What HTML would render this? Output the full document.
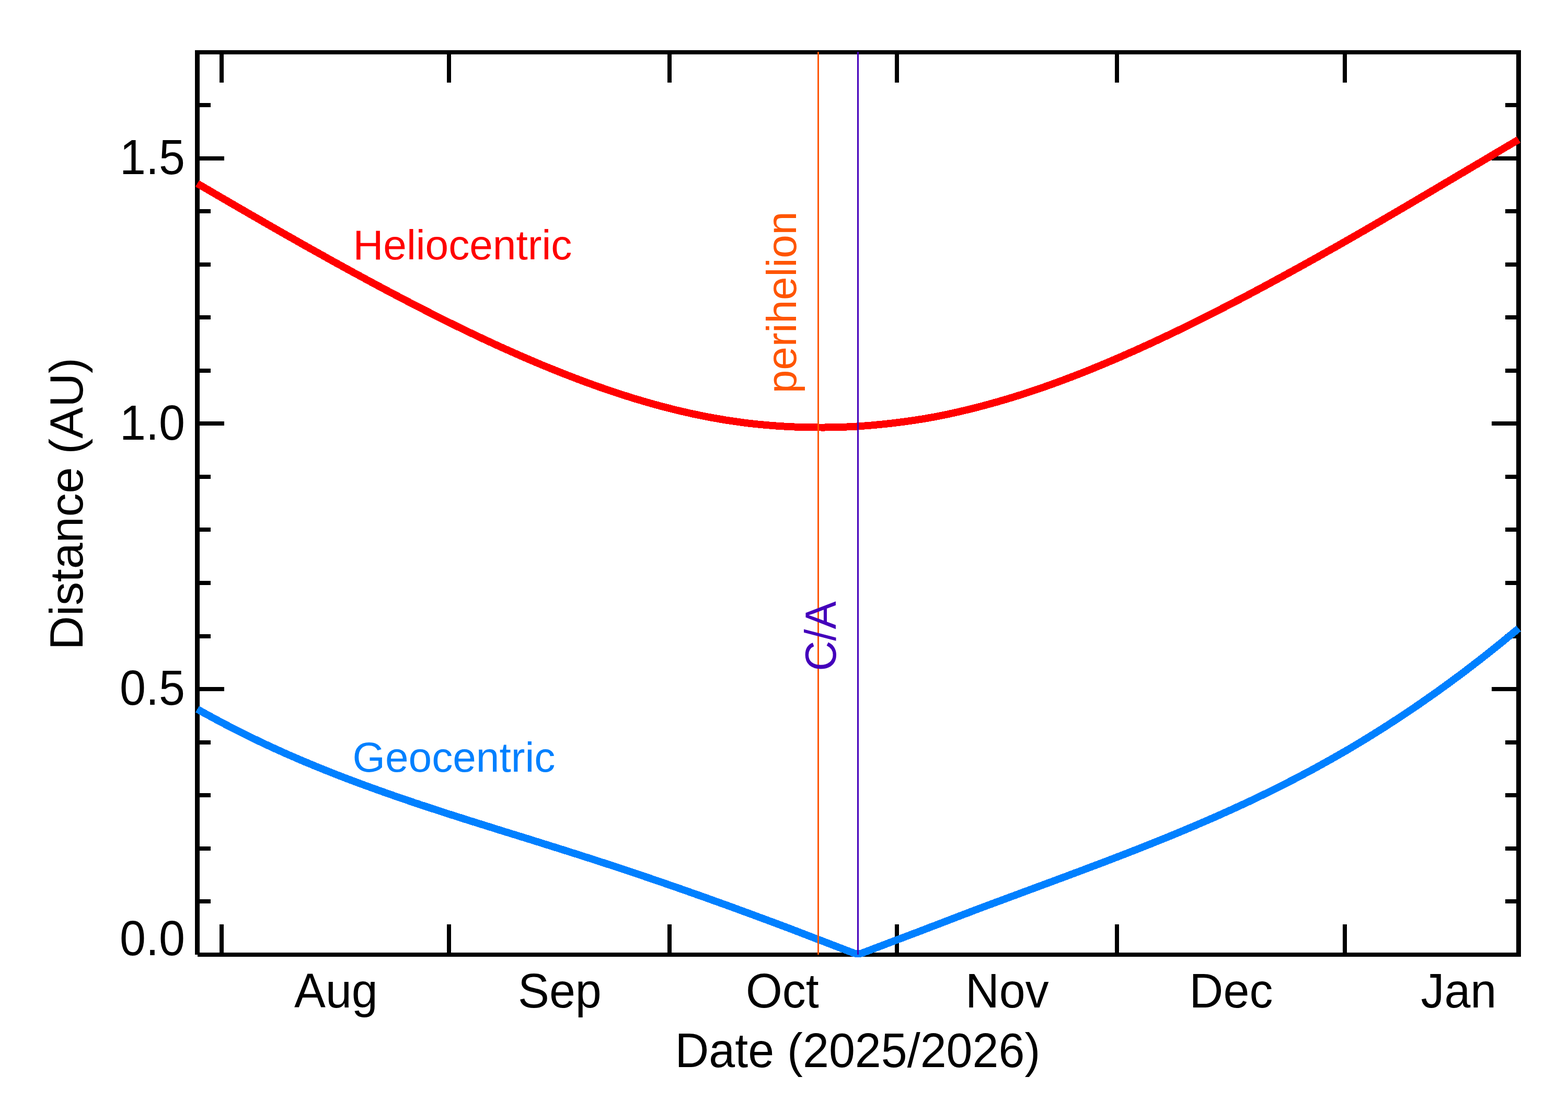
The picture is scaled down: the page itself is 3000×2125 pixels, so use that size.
<!DOCTYPE html>
<html lang="en"><head><meta charset="utf-8"><title>Heliocentric and Geocentric Distance</title>
<style>html,body{margin:0;padding:0;background:#fff}body{width:3000px;height:2125px}svg{display:block}text{font-family:"Liberation Sans",Arial,Helvetica,sans-serif}</style></head><body>
<svg width="3000" height="2125" viewBox="0 0 3000 2125">
<rect x="0" y="0" width="3000" height="2125" fill="#ffffff"/>
<g fill="none" stroke="#000" stroke-width="8.33" stroke-linecap="butt" stroke-linejoin="miter" shape-rendering="crispEdges">
<path d="M377.5,1826.0 H2905.5 V100.0 H377.5 V1826.0"/>
</g>
<g fill="#000" shape-rendering="crispEdges">
<rect x="420" y="96" width="8" height="62"/><rect x="420" y="1768" width="8" height="62"/>
<rect x="855" y="96" width="8" height="62"/><rect x="855" y="1768" width="8" height="62"/>
<rect x="1277" y="96" width="8" height="62"/><rect x="1277" y="1768" width="8" height="62"/>
<rect x="1712" y="96" width="8" height="62"/><rect x="1712" y="1768" width="8" height="62"/>
<rect x="2133" y="96" width="8" height="62"/><rect x="2133" y="1768" width="8" height="62"/>
<rect x="2569" y="96" width="8" height="62"/><rect x="2569" y="1768" width="8" height="62"/>
<rect x="373" y="1720" width="30" height="8"/><rect x="2880" y="1720" width="30" height="8"/>
<rect x="373" y="1619" width="30" height="8"/><rect x="2880" y="1619" width="30" height="8"/>
<rect x="373" y="1517" width="30" height="8"/><rect x="2880" y="1517" width="30" height="8"/>
<rect x="373" y="1416" width="30" height="8"/><rect x="2880" y="1416" width="30" height="8"/>
<rect x="373" y="1314" width="56" height="8"/><rect x="2854" y="1314" width="56" height="8"/>
<rect x="373" y="1213" width="30" height="8"/><rect x="2880" y="1213" width="30" height="8"/>
<rect x="373" y="1111" width="30" height="8"/><rect x="2880" y="1111" width="30" height="8"/>
<rect x="373" y="1009" width="30" height="8"/><rect x="2880" y="1009" width="30" height="8"/>
<rect x="373" y="908" width="30" height="8"/><rect x="2880" y="908" width="30" height="8"/>
<rect x="373" y="806" width="56" height="8"/><rect x="2854" y="806" width="56" height="8"/>
<rect x="373" y="705" width="30" height="8"/><rect x="2880" y="705" width="30" height="8"/>
<rect x="373" y="603" width="30" height="8"/><rect x="2880" y="603" width="30" height="8"/>
<rect x="373" y="502" width="30" height="8"/><rect x="2880" y="502" width="30" height="8"/>
<rect x="373" y="400" width="30" height="8"/><rect x="2880" y="400" width="30" height="8"/>
<rect x="373" y="299" width="56" height="8"/><rect x="2854" y="299" width="56" height="8"/>
<rect x="373" y="197" width="30" height="8"/><rect x="2880" y="197" width="30" height="8"/>
</g>
<path d="M377.5,351.0 L384.5,355.1 L391.5,359.2 L398.6,363.3 L405.6,367.4 L412.6,371.5 L419.6,375.6 L426.7,379.7 L433.7,383.8 L440.7,387.9 L447.7,391.9 L454.7,396.0 L461.8,400.1 L468.8,404.1 L475.8,408.2 L482.8,412.2 L489.9,416.3 L496.9,420.3 L503.9,424.4 L510.9,428.4 L517.9,432.4 L525.0,436.5 L532.0,440.5 L539.0,444.5 L546.0,448.5 L553.1,452.5 L560.1,456.4 L567.1,460.4 L574.1,464.4 L581.1,468.4 L588.2,472.3 L595.2,476.3 L602.2,480.2 L609.2,484.1 L616.3,488.0 L623.3,492.0 L630.3,495.9 L637.3,499.8 L644.3,503.6 L651.4,507.5 L658.4,511.4 L665.4,515.2 L672.4,519.1 L679.5,522.9 L686.5,526.7 L693.5,530.5 L700.5,534.3 L707.5,538.1 L714.6,541.9 L721.6,545.7 L728.6,549.4 L735.6,553.2 L742.7,556.9 L749.7,560.6 L756.7,564.3 L763.7,568.0 L770.7,571.7 L777.8,575.3 L784.8,579.0 L791.8,582.6 L798.8,586.2 L805.9,589.8 L812.9,593.4 L819.9,597.0 L826.9,600.6 L833.9,604.1 L841.0,607.6 L848.0,611.1 L855.0,614.6 L862.0,618.1 L869.1,621.5 L876.1,625.0 L883.1,628.4 L890.1,631.8 L897.1,635.2 L904.2,638.5 L911.2,641.9 L918.2,645.2 L925.2,648.5 L932.3,651.8 L939.3,655.0 L946.3,658.3 L953.3,661.5 L960.3,664.7 L967.4,667.8 L974.4,671.0 L981.4,674.1 L988.4,677.2 L995.5,680.3 L1002.5,683.4 L1009.5,686.4 L1016.5,689.4 L1023.5,692.4 L1030.6,695.3 L1037.6,698.3 L1044.6,701.2 L1051.6,704.0 L1058.7,706.9 L1065.7,709.7 L1072.7,712.5 L1079.7,715.3 L1086.7,718.0 L1093.8,720.7 L1100.8,723.4 L1107.8,726.1 L1114.8,728.7 L1121.9,731.3 L1128.9,733.8 L1135.9,736.4 L1142.9,738.9 L1149.9,741.3 L1157.0,743.8 L1164.0,746.2 L1171.0,748.6 L1178.0,750.9 L1185.1,753.2 L1192.1,755.5 L1199.1,757.7 L1206.1,759.9 L1213.1,762.1 L1220.2,764.2 L1227.2,766.3 L1234.2,768.4 L1241.2,770.4 L1248.3,772.4 L1255.3,774.3 L1262.3,776.2 L1269.3,778.1 L1276.3,779.9 L1283.4,781.7 L1290.4,783.5 L1297.4,785.2 L1304.4,786.8 L1311.5,788.4 L1318.5,790.0 L1325.5,791.6 L1332.5,793.0 L1339.5,794.5 L1346.6,795.9 L1353.6,797.3 L1360.6,798.6 L1367.6,799.9 L1374.7,801.1 L1381.7,802.3 L1388.7,803.5 L1395.7,804.6 L1402.7,805.6 L1409.8,806.6 L1416.8,807.6 L1423.8,808.5 L1430.8,809.4 L1437.9,810.2 L1444.9,811.0 L1451.9,811.7 L1458.9,812.4 L1465.9,813.0 L1473.0,813.6 L1480.0,814.2 L1487.0,814.7 L1494.0,815.1 L1501.1,815.6 L1508.1,816.0 L1515.1,816.3 L1522.1,816.6 L1529.1,816.8 L1536.2,817.0 L1543.2,817.2 L1550.2,817.3 L1557.2,817.4 L1564.3,817.5 L1571.3,817.5 L1578.3,817.5 L1585.3,817.4 L1592.3,817.3 L1599.4,817.2 L1606.4,817.0 L1613.4,816.8 L1620.4,816.5 L1627.5,816.2 L1634.5,815.8 L1641.5,815.4 L1648.5,814.9 L1655.5,814.4 L1662.6,813.9 L1669.6,813.3 L1676.6,812.6 L1683.6,812.0 L1690.7,811.2 L1697.7,810.5 L1704.7,809.7 L1711.7,808.9 L1718.7,808.0 L1725.8,807.1 L1732.8,806.2 L1739.8,805.2 L1746.8,804.2 L1753.9,803.1 L1760.9,802.0 L1767.9,800.9 L1774.9,799.7 L1781.9,798.4 L1789.0,797.2 L1796.0,795.8 L1803.0,794.4 L1810.0,793.0 L1817.1,791.5 L1824.1,790.0 L1831.1,788.4 L1838.1,786.8 L1845.1,785.1 L1852.2,783.5 L1859.2,781.7 L1866.2,780.0 L1873.2,778.1 L1880.3,776.3 L1887.3,774.4 L1894.3,772.5 L1901.3,770.5 L1908.3,768.6 L1915.4,766.5 L1922.4,764.5 L1929.4,762.4 L1936.4,760.3 L1943.5,758.1 L1950.5,755.9 L1957.5,753.7 L1964.5,751.4 L1971.5,749.1 L1978.6,746.7 L1985.6,744.4 L1992.6,742.0 L1999.6,739.5 L2006.7,737.0 L2013.7,734.5 L2020.7,732.0 L2027.7,729.4 L2034.7,726.8 L2041.8,724.1 L2048.8,721.5 L2055.8,718.8 L2062.8,716.1 L2069.9,713.3 L2076.9,710.5 L2083.9,707.7 L2090.9,704.9 L2097.9,702.0 L2105.0,699.1 L2112.0,696.2 L2119.0,693.2 L2126.0,690.3 L2133.1,687.3 L2140.1,684.3 L2147.1,681.2 L2154.1,678.1 L2161.1,675.0 L2168.2,671.9 L2175.2,668.8 L2182.2,665.6 L2189.2,662.4 L2196.3,659.2 L2203.3,656.0 L2210.3,652.7 L2217.3,649.4 L2224.3,646.1 L2231.4,642.8 L2238.4,639.5 L2245.4,636.1 L2252.4,632.8 L2259.5,629.4 L2266.5,625.9 L2273.5,622.5 L2280.5,619.0 L2287.5,615.6 L2294.6,612.1 L2301.6,608.6 L2308.6,605.0 L2315.6,601.5 L2322.7,597.9 L2329.7,594.4 L2336.7,590.8 L2343.7,587.1 L2350.7,583.5 L2357.8,579.9 L2364.8,576.2 L2371.8,572.6 L2378.8,568.9 L2385.9,565.2 L2392.9,561.5 L2399.9,557.7 L2406.9,554.0 L2413.9,550.3 L2421.0,546.5 L2428.0,542.7 L2435.0,538.9 L2442.0,535.1 L2449.1,531.3 L2456.1,527.5 L2463.1,523.6 L2470.1,519.8 L2477.1,515.9 L2484.2,512.1 L2491.2,508.2 L2498.2,504.3 L2505.2,500.4 L2512.3,496.5 L2519.3,492.6 L2526.3,488.6 L2533.3,484.7 L2540.3,480.7 L2547.4,476.8 L2554.4,472.8 L2561.4,468.8 L2568.4,464.8 L2575.5,460.8 L2582.5,456.8 L2589.5,452.8 L2596.5,448.8 L2603.5,444.7 L2610.6,440.7 L2617.6,436.6 L2624.6,432.6 L2631.6,428.5 L2638.7,424.4 L2645.7,420.3 L2652.7,416.2 L2659.7,412.1 L2666.7,408.0 L2673.8,403.9 L2680.8,399.8 L2687.8,395.7 L2694.8,391.6 L2701.9,387.4 L2708.9,383.3 L2715.9,379.1 L2722.9,375.0 L2729.9,370.9 L2737.0,366.7 L2744.0,362.6 L2751.0,358.4 L2758.0,354.3 L2765.1,350.1 L2772.1,346.0 L2779.1,341.8 L2786.1,337.7 L2793.1,333.5 L2800.2,329.4 L2807.2,325.2 L2814.2,321.1 L2821.2,316.9 L2828.3,312.8 L2835.3,308.6 L2842.3,304.4 L2849.3,300.3 L2856.3,296.1 L2863.4,291.9 L2870.4,287.8 L2877.4,283.6 L2884.4,279.4 L2891.5,275.3 L2898.5,271.1 L2905.5,267.0" fill="none" stroke="#ff0000" stroke-width="14.0" stroke-linejoin="miter" stroke-linecap="butt" shape-rendering="crispEdges"/>
<path d="M377.5,1356.4 L384.5,1360.4 L391.5,1364.3 L398.6,1368.1 L405.6,1371.9 L412.6,1375.7 L419.6,1379.5 L426.7,1383.2 L433.7,1386.9 L440.7,1390.5 L447.7,1394.1 L454.7,1397.7 L461.8,1401.2 L468.8,1404.7 L475.8,1408.2 L482.8,1411.6 L489.9,1415.0 L496.9,1418.4 L503.9,1421.7 L510.9,1425.0 L517.9,1428.3 L525.0,1431.5 L532.0,1434.7 L539.0,1437.8 L546.0,1441.0 L553.1,1444.1 L560.1,1447.1 L567.1,1450.2 L574.1,1453.2 L581.1,1456.2 L588.2,1459.1 L595.2,1462.0 L602.2,1464.9 L609.2,1467.8 L616.3,1470.6 L623.3,1473.5 L630.3,1476.2 L637.3,1479.0 L644.3,1481.8 L651.4,1484.5 L658.4,1487.2 L665.4,1489.9 L672.4,1492.5 L679.5,1495.2 L686.5,1497.8 L693.5,1500.4 L700.5,1503.0 L707.5,1505.5 L714.6,1508.1 L721.6,1510.6 L728.6,1513.1 L735.6,1515.6 L742.7,1518.1 L749.7,1520.5 L756.7,1523.0 L763.7,1525.4 L770.7,1527.8 L777.8,1530.2 L784.8,1532.6 L791.8,1535.0 L798.8,1537.3 L805.9,1539.7 L812.9,1542.0 L819.9,1544.3 L826.9,1546.6 L833.9,1548.9 L841.0,1551.2 L848.0,1553.5 L855.0,1555.8 L862.0,1558.0 L869.1,1560.3 L876.1,1562.5 L883.1,1564.7 L890.1,1567.0 L897.1,1569.2 L904.2,1571.4 L911.2,1573.6 L918.2,1575.8 L925.2,1578.0 L932.3,1580.2 L939.3,1582.4 L946.3,1584.6 L953.3,1586.8 L960.3,1589.0 L967.4,1591.2 L974.4,1593.3 L981.4,1595.5 L988.4,1597.7 L995.5,1599.9 L1002.5,1602.1 L1009.5,1604.2 L1016.5,1606.4 L1023.5,1608.6 L1030.6,1610.8 L1037.6,1613.0 L1044.6,1615.2 L1051.6,1617.4 L1058.7,1619.6 L1065.7,1621.8 L1072.7,1624.0 L1079.7,1626.2 L1086.7,1628.5 L1093.8,1630.7 L1100.8,1632.9 L1107.8,1635.2 L1114.8,1637.4 L1121.9,1639.7 L1128.9,1641.9 L1135.9,1644.2 L1142.9,1646.5 L1149.9,1648.7 L1157.0,1651.0 L1164.0,1653.3 L1171.0,1655.6 L1178.0,1657.9 L1185.1,1660.3 L1192.1,1662.6 L1199.1,1664.9 L1206.1,1667.3 L1213.1,1669.6 L1220.2,1672.0 L1227.2,1674.3 L1234.2,1676.7 L1241.2,1679.1 L1248.3,1681.5 L1255.3,1683.9 L1262.3,1686.3 L1269.3,1688.7 L1276.3,1691.1 L1283.4,1693.6 L1290.4,1696.0 L1297.4,1698.4 L1304.4,1700.9 L1311.5,1703.3 L1318.5,1705.8 L1325.5,1708.3 L1332.5,1710.8 L1339.5,1713.2 L1346.6,1715.7 L1353.6,1718.2 L1360.6,1720.7 L1367.6,1723.3 L1374.7,1725.8 L1381.7,1728.3 L1388.7,1730.8 L1395.7,1733.4 L1402.7,1735.9 L1409.8,1738.5 L1416.8,1741.1 L1423.8,1743.6 L1430.8,1746.2 L1437.9,1748.8 L1444.9,1751.4 L1451.9,1754.0 L1458.9,1756.6 L1465.9,1759.2 L1473.0,1761.8 L1480.0,1764.4 L1487.0,1767.0 L1494.0,1769.6 L1501.1,1772.3 L1508.1,1774.9 L1515.1,1777.6 L1522.1,1780.3 L1529.1,1783.0 L1536.2,1785.7 L1543.2,1788.4 L1550.2,1791.1 L1557.2,1793.8 L1564.3,1796.5 L1571.3,1799.1 L1578.3,1801.8 L1585.3,1804.5 L1592.3,1807.2 L1599.4,1809.9 L1606.4,1812.6 L1613.4,1815.3 L1620.4,1818.0 L1627.5,1820.7 L1634.5,1823.3 L1641.5,1824.4 L1648.5,1823.3 L1655.5,1820.7 L1662.6,1818.0 L1669.6,1815.3 L1676.6,1812.7 L1683.6,1810.0 L1690.7,1807.4 L1697.7,1804.7 L1704.7,1802.0 L1711.7,1799.4 L1718.7,1796.7 L1725.8,1794.1 L1732.8,1791.4 L1739.8,1788.8 L1746.8,1786.1 L1753.9,1783.5 L1760.9,1780.8 L1767.9,1778.1 L1774.9,1775.4 L1781.9,1772.7 L1789.0,1770.1 L1796.0,1767.4 L1803.0,1764.7 L1810.0,1762.0 L1817.1,1759.3 L1824.1,1756.6 L1831.1,1753.9 L1838.1,1751.2 L1845.1,1748.5 L1852.2,1745.9 L1859.2,1743.2 L1866.2,1740.5 L1873.2,1737.9 L1880.3,1735.2 L1887.3,1732.6 L1894.3,1730.0 L1901.3,1727.4 L1908.3,1724.8 L1915.4,1722.2 L1922.4,1719.6 L1929.4,1717.0 L1936.4,1714.4 L1943.5,1711.8 L1950.5,1709.2 L1957.5,1706.6 L1964.5,1704.0 L1971.5,1701.4 L1978.6,1698.8 L1985.6,1696.2 L1992.6,1693.6 L1999.6,1691.0 L2006.7,1688.4 L2013.7,1685.8 L2020.7,1683.2 L2027.7,1680.6 L2034.7,1678.0 L2041.8,1675.4 L2048.8,1672.7 L2055.8,1670.1 L2062.8,1667.5 L2069.9,1664.9 L2076.9,1662.2 L2083.9,1659.6 L2090.9,1656.9 L2097.9,1654.3 L2105.0,1651.6 L2112.0,1649.0 L2119.0,1646.3 L2126.0,1643.6 L2133.1,1640.9 L2140.1,1638.2 L2147.1,1635.5 L2154.1,1632.8 L2161.1,1630.1 L2168.2,1627.3 L2175.2,1624.6 L2182.2,1621.8 L2189.2,1619.0 L2196.3,1616.2 L2203.3,1613.5 L2210.3,1610.6 L2217.3,1607.8 L2224.3,1605.0 L2231.4,1602.1 L2238.4,1599.3 L2245.4,1596.4 L2252.4,1593.5 L2259.5,1590.6 L2266.5,1587.6 L2273.5,1584.7 L2280.5,1581.7 L2287.5,1578.8 L2294.6,1575.7 L2301.6,1572.7 L2308.6,1569.7 L2315.6,1566.6 L2322.7,1563.6 L2329.7,1560.5 L2336.7,1557.3 L2343.7,1554.2 L2350.7,1551.0 L2357.8,1547.9 L2364.8,1544.6 L2371.8,1541.4 L2378.8,1538.2 L2385.9,1534.9 L2392.9,1531.6 L2399.9,1528.3 L2406.9,1524.9 L2413.9,1521.5 L2421.0,1518.1 L2428.0,1514.7 L2435.0,1511.2 L2442.0,1507.7 L2449.1,1504.2 L2456.1,1500.7 L2463.1,1497.1 L2470.1,1493.5 L2477.1,1489.9 L2484.2,1486.2 L2491.2,1482.5 L2498.2,1478.8 L2505.2,1475.1 L2512.3,1471.3 L2519.3,1467.5 L2526.3,1463.6 L2533.3,1459.7 L2540.3,1455.8 L2547.4,1451.9 L2554.4,1447.9 L2561.4,1443.9 L2568.4,1439.9 L2575.5,1435.8 L2582.5,1431.7 L2589.5,1427.5 L2596.5,1423.3 L2603.5,1419.1 L2610.6,1414.8 L2617.6,1410.5 L2624.6,1406.2 L2631.6,1401.8 L2638.7,1397.4 L2645.7,1392.9 L2652.7,1388.5 L2659.7,1383.9 L2666.7,1379.4 L2673.8,1374.8 L2680.8,1370.2 L2687.8,1365.5 L2694.8,1360.8 L2701.9,1356.1 L2708.9,1351.3 L2715.9,1346.5 L2722.9,1341.6 L2729.9,1336.7 L2737.0,1331.8 L2744.0,1326.9 L2751.0,1321.9 L2758.0,1316.8 L2765.1,1311.7 L2772.1,1306.6 L2779.1,1301.5 L2786.1,1296.3 L2793.1,1291.1 L2800.2,1285.8 L2807.2,1280.5 L2814.2,1275.1 L2821.2,1269.7 L2828.3,1264.3 L2835.3,1258.8 L2842.3,1253.3 L2849.3,1247.8 L2856.3,1242.2 L2863.4,1236.5 L2870.4,1230.9 L2877.4,1225.2 L2884.4,1219.4 L2891.5,1213.6 L2898.5,1207.8 L2905.5,1202.0" fill="none" stroke="#0080ff" stroke-width="14.0" stroke-linejoin="miter" stroke-linecap="butt" shape-rendering="crispEdges"/>
<text id="y15" transform="translate(229.00,333.00) scale(1,1.050)" font-size="89.80" fill="#000" text-anchor="start">1.5</text>
<text id="y10" transform="translate(229.00,840.50) scale(1,1.050)" font-size="89.80" fill="#000" text-anchor="start">1.0</text>
<text id="y05" transform="translate(229.00,1348.00) scale(1,1.050)" font-size="89.80" fill="#000" text-anchor="start">0.5</text>
<text id="y00" transform="translate(229.00,1826.50) scale(1,1.050)" font-size="89.80" fill="#000" text-anchor="start">0.0</text>
<text id="aug" transform="translate(563.00,1926.50) scale(1,1.040)" font-size="89.80" fill="#000" text-anchor="start">Aug</text>
<text id="sep" transform="translate(991.00,1926.50) scale(1,1.040)" font-size="89.80" fill="#000" text-anchor="start">Sep</text>
<text id="oct" transform="translate(1427.00,1926.50) scale(1,1.040)" font-size="89.80" fill="#000" text-anchor="start">Oct</text>
<text id="nov" transform="translate(1847.00,1926.50) scale(1,1.040)" font-size="89.80" fill="#000" text-anchor="start">Nov</text>
<text id="dec" transform="translate(2275.60,1926.50) scale(1,1.040)" font-size="89.80" fill="#000" text-anchor="start">Dec</text>
<text id="jan" transform="translate(2718.50,1926.50) scale(1,1.040)" font-size="89.80" fill="#000" text-anchor="start">Jan</text>
<text id="xt" transform="translate(1291.50,2041.00) scale(1,1.030)" font-size="89.80" fill="#000" text-anchor="start">Date (2025/2026)</text>
<text id="yt" transform="translate(158.00,1242.90) rotate(-90)" font-size="89.80" fill="#000" text-anchor="start">Distance (AU)</text>
<text id="hc" transform="translate(675.40,495.50)" font-size="80.20" fill="#ff0000" text-anchor="start">Heliocentric</text>
<text id="gc" transform="translate(674.60,1475.50)" font-size="80.20" fill="#0080ff" text-anchor="start">Geocentric</text>
<rect x="1564" y="99" width="3" height="1727" fill="#ff5500" shape-rendering="crispEdges"/>
<text id="per" transform="translate(1522.70,752.30) rotate(-90)" font-size="80.20" fill="#ff5500" text-anchor="start">perihelion</text>
<rect x="1640" y="99" width="3" height="1727" fill="#4400bb" shape-rendering="crispEdges"/>
<text id="ca" transform="translate(1599.30,1283.60) rotate(-90) scale(1,1.040)" font-size="80.20" fill="#4400bb" text-anchor="start">C/A</text>
</svg></body></html>
